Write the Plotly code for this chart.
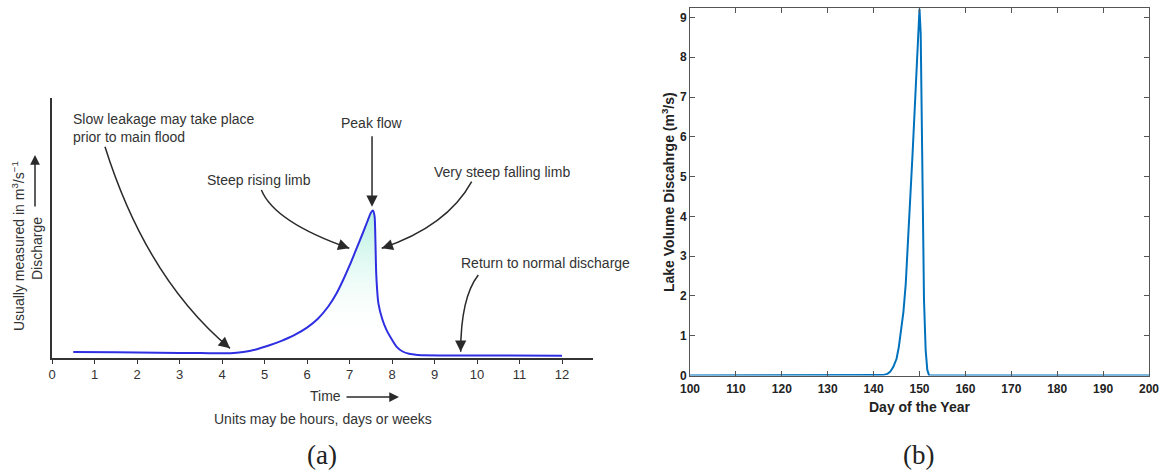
import plotly.graph_objects as go

W, H = 1167, 472

# ---------------- Panel (a): idealised flood hydrograph ----------------
time_a = [0.5, 1.5, 2.5, 3.5, 4.2, 4.5, 4.8, 5.1, 5.4, 5.7, 6.0, 6.25, 6.5,
          6.7, 6.85, 7.0, 7.15, 7.3, 7.42, 7.5, 7.55, 7.59, 7.61, 7.63, 7.68,
          7.77, 7.87, 8.0, 8.11, 8.25, 8.4, 8.6, 9.5, 10.5, 12.0]
discharge_a = [0.23, 0.22, 0.20, 0.19, 0.18, 0.23, 0.33, 0.48, 0.66, 0.88,
               1.17, 1.5, 1.98, 2.5, 3.0, 3.55, 4.15, 4.75, 5.25, 5.58, 5.67,
               5.45, 4.5, 3.2, 2.1, 1.5, 1.08, 0.7, 0.43, 0.25, 0.16, 0.12,
               0.10, 0.10, 0.09]
xticks_a = list(range(0, 13))

# ---------------- Panel (b): lake volume discharge ----------------
day_b = [100, 140, 142, 143, 143.6, 144.3, 145.0, 145.5, 146.0, 146.5, 147.0,
         147.5, 148.0, 148.5, 149.0, 149.5, 149.9, 150.0, 150.26, 150.47,
         150.7, 150.98, 151.34, 151.7, 152.1, 200]
lake_b = [0, 0, 0.01, 0.04, 0.09, 0.22, 0.42, 0.72, 1.1, 1.6, 2.3, 3.3, 4.45,
          5.6, 6.8, 8.05, 9.1, 9.22, 8.6, 6.93, 4.41, 1.9, 0.64, 0.14, 0, 0]
xticks_b = list(range(100, 201, 10))
yticks_b = list(range(0, 10))


def px(x):
    return x / W


def py(y):
    return 1 - y / H


INK = "#2a2a2a"
TXT = "#333333"

fig = go.Figure()

fig.add_trace(go.Scatter(
    x=time_a, y=discharge_a, mode="lines",
    line=dict(color="#2f2fe2", width=2, shape="spline", smoothing=0.6),
    fill="tozeroy",
    fillgradient=dict(type="vertical", start=0, stop=5.2,
                      colorscale=[[0, "rgba(255,255,255,0)"],
                                  [0.12, "rgba(255,255,255,0)"],
                                  [1, "rgb(190,243,228)"]]),
    xaxis="x", yaxis="y", hoverinfo="skip", showlegend=False))

fig.add_trace(go.Scatter(
    x=day_b, y=lake_b, mode="lines",
    line=dict(color="#0072BD", width=2),
    xaxis="x2", yaxis="y2", hoverinfo="skip", showlegend=False))

# curved annotation arrows of panel (a): (start, control, tip, tail offset px)
curved_arrows = [
    ((1.247, 8.127), (2.224, 3.05), (4.188, 0.371), (-7.7, -6.4)),
    ((4.927, 6.462), (5.235, 5.227), (6.995, 4.219), (-9.4, -3.3)),
    ((9.875, 6.781), (9.296, 5.058), (7.758, 4.219), (9.5, -3.2)),
    ((10.03, 3.19), (9.616, 2.315), (9.616, 0.242), (0, -10)),
]

shapes = []
annotations = []
for (p0, c, p2, tail) in curved_arrows:
    shapes.append(dict(
        type="path", xref="x", yref="y",
        path=f"M {p0[0]},{p0[1]} Q {c[0]},{c[1]} {p2[0]},{p2[1]}",
        line=dict(color=INK, width=1.5)))
    annotations.append(dict(
        x=p2[0], y=p2[1], xref="x", yref="y", text="", showarrow=True,
        ax=tail[0], ay=tail[1], arrowhead=2, arrowsize=1.5, arrowwidth=1.5,
        arrowcolor=INK))

# Peak flow straight arrow
annotations.append(dict(x=7.53, y=5.82, xref="x", yref="y", text="",
                        showarrow=True, ax=0, ay=-72, arrowhead=2,
                        arrowsize=1.5, arrowwidth=1.5, arrowcolor=INK))

lbl_font = dict(family="Liberation Sans, Arial", size=14, color=TXT)
labels_a = [
    (0.447, 8.86, "Slow leakage may take place<br>prior to main flood", "left"),
    (4.86, 6.85, "Steep rising limb", "center"),
    (7.52, 9.03, "Peak flow", "center"),
    (10.58, 7.17, "Very steep falling limb", "center"),
    (11.6, 3.64, "Return to normal discharge", "center"),
]
for (x, y, t, anc) in labels_a:
    annotations.append(dict(x=x, y=y, xref="x", yref="y", text=t,
                            showarrow=False, xanchor=anc, yanchor="middle",
                            align="left", font=lbl_font))

# axis texts of panel (a)
annotations += [
    dict(x=px(18), y=py(246), xref="paper", yref="paper",
         text="Usually measured in m<sup>3</sup>/s<sup>\u22121</sup>",
         showarrow=False, textangle=-90, font=lbl_font,
         xanchor="center", yanchor="middle"),
    dict(x=px(37), y=py(249), xref="paper", yref="paper", text="Discharge",
         showarrow=False, textangle=-90, font=lbl_font,
         xanchor="center", yanchor="middle"),
    dict(x=px(35), y=py(155), xref="paper", yref="paper", text="",
         showarrow=True, ax=0, ay=53, arrowhead=2, arrowsize=1.3,
         arrowwidth=1.5, arrowcolor=INK),
    dict(x=px(325), y=py(396), xref="paper", yref="paper", text="Time",
         showarrow=False, font=lbl_font, xanchor="center", yanchor="middle"),
    dict(x=px(399), y=py(397), xref="paper", yref="paper", text="",
         showarrow=True, ax=-54, ay=0, arrowhead=2, arrowsize=1.3,
         arrowwidth=1.5, arrowcolor=INK),
    dict(x=px(323), y=py(419), xref="paper", yref="paper",
         text="Units may be hours, days or weeks", showarrow=False,
         font=lbl_font, xanchor="center", yanchor="middle"),
]

# axis titles of panel (b)
bold_font = dict(family="Liberation Sans, Arial", size=14, color="#222222",
                 weight="bold")
annotations += [
    dict(x=px(668), y=py(192), xref="paper", yref="paper",
         text="Lake Volume Discahrge (m<sup>3</sup>/s)", showarrow=False,
         textangle=-90, font=bold_font, xanchor="center", yanchor="middle"),
    dict(x=px(919.5), y=py(407), xref="paper", yref="paper",
         text="Day of the Year", showarrow=False, font=bold_font,
         xanchor="center", yanchor="middle"),
]

# captions
cap_font = dict(family="Liberation Serif, DejaVu Serif", size=27,
                color="#222222")
annotations += [
    dict(x=px(322), y=py(455), xref="paper", yref="paper", text="(a)",
         showarrow=False, font=cap_font, xanchor="center", yanchor="middle"),
    dict(x=px(918), y=py(455), xref="paper", yref="paper", text="(b)",
         showarrow=False, font=cap_font, xanchor="center", yanchor="middle"),
]

fig.update_layout(
    width=W, height=H,
    margin=dict(l=0, r=0, t=0, b=0),
    paper_bgcolor="white", plot_bgcolor="white",
    font=dict(family="Liberation Sans, Arial", color=TXT),
    showlegend=False,
    xaxis=dict(domain=[px(52), px(593)], range=[0, 541 / 42.5],
               anchor="y", showline=True, linecolor=TXT, linewidth=1.5,
               ticks="outside", ticklen=4, tickcolor=TXT, tickwidth=1,
               tickvals=xticks_a, ticktext=[str(v) for v in xticks_a],
               tickfont=dict(size=13, color=TXT), showgrid=False,
               zeroline=False, automargin=False),
    yaxis=dict(domain=[py(358), py(98)], range=[0, 10], anchor="x",
               showline=True, linecolor=TXT, linewidth=1.5,
               showticklabels=False, ticks="", showgrid=False,
               zeroline=False, automargin=False),
    xaxis2=dict(domain=[px(690), px(1149)], range=[100, 200], anchor="y2",
                showline=True, mirror="ticks", linecolor="#555555",
                linewidth=1, ticks="inside", ticklen=5, tickcolor="#555555",
                tickvals=xticks_b, ticktext=[str(v) for v in xticks_b],
                tickfont=dict(size=12, color="#222222", weight="bold"),
                ticklabelstandoff=2,
                showgrid=False, zeroline=False, automargin=False),
    yaxis2=dict(domain=[py(375.5), py(8.3)], range=[0, 9.23], anchor="x2",
                showline=True, mirror="ticks", linecolor="#555555",
                linewidth=1, ticks="inside", ticklen=5, tickcolor="#555555",
                tickvals=yticks_b, ticktext=[str(v) for v in yticks_b],
                tickfont=dict(size=12, color="#222222", weight="bold"),
                showgrid=False, zeroline=False, automargin=False),
    shapes=shapes,
    annotations=annotations,
)

fig.write_html("out.html")
